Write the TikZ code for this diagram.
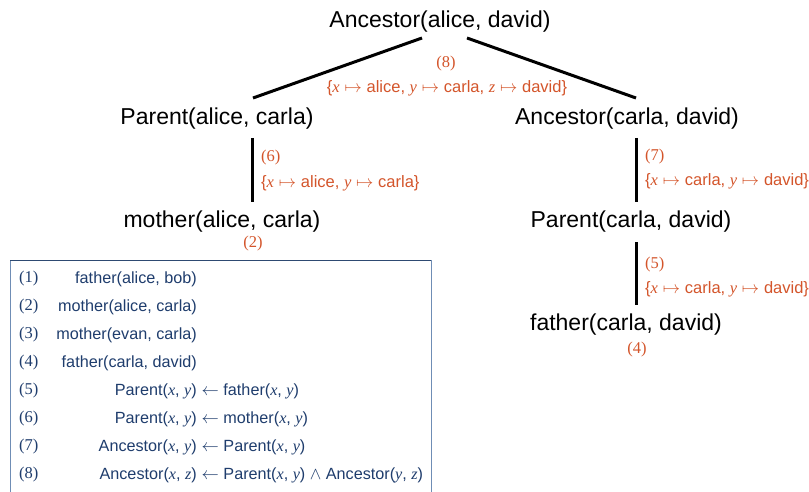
\documentclass[tikz,border=0pt]{standalone}
\usepackage{fontspec}
\setmainfont{Liberation Sans}
\newfontfamily\serf{Liberation Serif}
\definecolor{lblorange}{HTML}{D4552B}
\definecolor{boxtext}{HTML}{1F3D6D}
\definecolor{boxtop}{HTML}{2E4A72}
\definecolor{boxside}{HTML}{6F8DB5}
\newcommand{\V}[1]{{\serf\itshape #1}}
\newcommand{\N}[1]{{\serf (#1)}}
\newcommand{\mt}{$\;\mapsto\;$}
\newcommand{\la}{\;$\leftarrow$\;}
\begin{document}
\begin{tikzpicture}[x=1pt,y=-1pt,
  term/.style={font=\fontsize{23}{25}\selectfont, inner sep=0pt, anchor=center},
  lbl/.style={font=\fontsize{16.5}{18}\selectfont, text=lblorange, inner sep=0pt},
  edgeline/.style={line width=3pt, black},
  boxrow/.style={font=\fontsize{16.2}{18}\selectfont, text=boxtext, inner sep=0pt},
  boxnum/.style={font=\fontsize{16.5}{18}\selectfont, text=boxtext, inner sep=0pt, anchor=west}]
\useasboundingbox (0,0) rectangle (809,492);
\fill[white] (0,0) rectangle (809,492);
% tree nodes
\node[term] (root) at (440,22) {Ancestor(alice, david)};
\node[term] (pac) at (217,119) {Parent(alice, carla)};
\node[term] (acd) at (627,119) {Ancestor(carla, david)};
\node[term] (mac) at (222,222) {mother(alice, carla)};
\node[term] (pcd) at (631,222) {Parent(carla, david)};
\node[term] (fcd) at (626,325) {father(carla, david)};
% connector endpoints
\coordinate (r1) at (422,38);
\coordinate (r2) at (467,38);
\coordinate (l1) at (253,98);
\coordinate (l2) at (636,98);
\draw[edgeline] (r1) -- (l1);
\draw[edgeline] (r2) -- (l2);
\coordinate (a1) at (252,138);
\coordinate (a2) at (252,202);
\draw[edgeline] (a1) -- (a2);
\coordinate (b1) at (636,138);
\coordinate (b2) at (636,202);
\draw[edgeline] (b1) -- (b2);
\coordinate (c1) at (636,242);
\coordinate (c2) at (636,305);
\draw[edgeline] (c1) -- (c2);
% labels
\node[lbl] (n8) at (446,64) {\N{8}};
\node[lbl] (s8) at (447,88) {\{\V{x}\mt alice, \V{y}\mt carla, \V{z}\mt david\}};
\node[lbl, anchor=west] (n6) at (261,158) {\N{6}};
\node[lbl, anchor=west] (s6) at (261,183) {\{\V{x}\mt alice, \V{y}\mt carla\}};
\node[lbl] (n2) at (253,244) {\N{2}};
\node[lbl, anchor=west] (n7) at (645,157) {\N{7}};
\node[lbl, anchor=west] (s7) at (645,181) {\{\V{x}\mt carla, \V{y}\mt david\}};
\node[lbl, anchor=west] (n5) at (645,265) {\N{5}};
\node[lbl, anchor=west] (s5) at (645,289) {\{\V{x}\mt carla, \V{y}\mt david\}};
\node[lbl] (n4) at (637,350) {\N{4}};
% box
\draw[boxside, line width=1pt] (10,500) -- (10,260) -- (431,260) -- (431,500);
\draw[boxtop, line width=1pt] (10,260) -- (431,260);
% box rows
\foreach \i/\yy in {1/279,2/307,3/335,4/363,5/391,6/419,7/447,8/475}{
  \node[boxnum] (num\i) at (19,\yy) {\N{\i}};
}
\node[boxrow, anchor=east] (f1) at (197,279) {father(alice, bob)};
\node[boxrow, anchor=east] (f2) at (197,307) {mother(alice, carla)};
\node[boxrow, anchor=east] (f3) at (197,335) {mother(evan, carla)};
\node[boxrow, anchor=east] (f4) at (197,363) {father(carla, david)};
\node[boxrow, anchor=east] (h5) at (197,391) {Parent(\V{x}, \V{y})};
\node[boxrow, anchor=west] (b5) at (197,391) {\la father(\V{x}, \V{y})};
\node[boxrow, anchor=east] (h6) at (197,419) {Parent(\V{x}, \V{y})};
\node[boxrow, anchor=west] (b6) at (197,419) {\la mother(\V{x}, \V{y})};
\node[boxrow, anchor=east] (h7) at (197,447) {Ancestor(\V{x}, \V{y})};
\node[boxrow, anchor=west] (b7) at (197,447) {\la Parent(\V{x}, \V{y})};
\node[boxrow, anchor=east] (h8) at (197,475) {Ancestor(\V{x}, \V{z})};
\node[boxrow, anchor=west] (b8) at (197,475) {\la Parent(\V{x}, \V{y}) $\wedge$ Ancestor(\V{y}, \V{z})};
\end{tikzpicture}
\end{document}
